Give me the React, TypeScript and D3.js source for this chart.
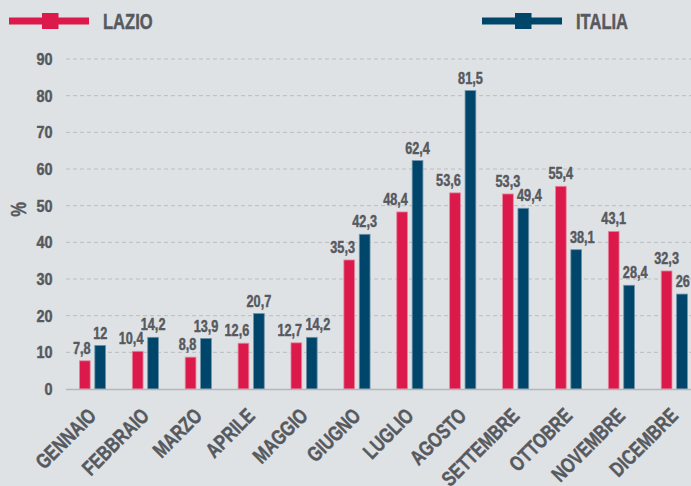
import React from 'react';
import * as d3 from 'd3';

// chart size matches the browser window
const width = 691;
const height = 486;

const months = [
  'GENNAIO', 'FEBBRAIO', 'MARZO', 'APRILE', 'MAGGIO', 'GIUGNO',
  'LUGLIO', 'AGOSTO', 'SETTEMBRE', 'OTTOBRE', 'NOVEMBRE', 'DICEMBRE',
];
const seriesNames = ['LAZIO', 'ITALIA'];
const lazio = [7.8, 10.4, 8.8, 12.6, 12.7, 35.3, 48.4, 53.6, 53.3, 55.4, 43.1, 32.3];
const italia = [12, 14.2, 13.9, 20.7, 14.2, 42.3, 62.4, 81.5, 49.4, 38.1, 28.4, 26];
const yTicks = [0, 10, 20, 30, 40, 50, 60, 70, 80, 90];

const colors: Record<string, string> = { LAZIO: '#db1a4b', ITALIA: '#00456a' };
const strokes: Record<string, string> = { LAZIO: '#e9879f', ITALIA: '#6f93aa' };
const bg = '#dfe2e5';
const textColor = '#56595e';
const font = '"Liberation Sans", Arial, sans-serif';

// italian decimal comma
const fmt = (v: number) => String(v).replace('.', ',');

// condensed heavy text: the original uses a narrow face, so squeeze a regular one
function CText(props: {
  x: number; y: number; size: number; sx?: number; rotate?: number;
  anchor?: 'start' | 'middle' | 'end'; children: React.ReactNode;
}) {
  const { x, y, size, sx = 0.77, rotate = 0, anchor = 'start', children } = props;
  return (
    <text transform={`translate(${x},${y}) rotate(${rotate}) scale(${sx},1)`}
      textAnchor={anchor} fontSize={size} fill={textColor}
      stroke={textColor} strokeWidth={0.45} strokeLinejoin="round">{children}</text>
  );
}

function App() {
  const plotLeft = 66;
  const x = d3.scaleBand<string>()
    .domain(months)
    .range([plotLeft, 700.8])
    .paddingInner(0.49)
    .paddingOuter(0.246);
  const xSub = d3.scaleBand<string>()
    .domain(seriesNames)
    .range([0, x.bandwidth()])
    .paddingInner(0.25);
  const y = d3.scaleLinear().domain([0, 90]).range([389, 59]);
  const bw = xSub.bandwidth();

  return (
    <svg width={width} height={height} style={{ position: 'absolute', left: 0, top: 0 }}
      fontFamily={font} fontWeight="bold">
      <rect width={width} height={height} fill={bg} />

      {/* legend */}
      <g>
        <rect x={9} y={17.5} width={80} height={7} fill={colors.LAZIO} />
        <rect x={42} y={13} width={16.5} height={16} fill={colors.LAZIO} />
        <CText x={103} y={29} size={21.5}>LAZIO</CText>
        <rect x={482} y={17.5} width={80} height={7} fill={colors.ITALIA} />
        <rect x={515} y={13} width={16.5} height={16} fill={colors.ITALIA} />
        <CText x={576} y={29} size={21.5}>ITALIA</CText>
      </g>

      {/* grid + y axis */}
      <g>
        {yTicks.map(t => (
          <g key={t}>
            {t > 0 && (
              <line x1={plotLeft} x2={width} y1={y(t)} y2={y(t)}
                stroke="#b9bdc1" strokeWidth={1} strokeDasharray="4,3" />
            )}
            <CText x={52.5} y={y(t) + 6} size={17} sx={0.85} anchor="end">{t}</CText>
          </g>
        ))}
        <CText x={26} y={209.5} size={21.5} rotate={-90} anchor="middle">%</CText>
      </g>

      {/* bars */}
      {seriesNames.map(name => (
        <g key={name}>
          {(name === 'LAZIO' ? lazio : italia).map((v, i) => {
            const bx = (x(months[i]) ?? 0) + (xSub(name) ?? 0);
            return (
              <rect key={i} x={bx + 0.4} y={y(v) + 0.4} width={bw - 0.8} height={y(0) - y(v) - 0.4}
                fill={colors[name]} stroke={strokes[name]} strokeWidth={0.8} />
            );
          })}
        </g>
      ))}

      {/* value labels: keep the two labels of a month from running into each other */}
      {months.map((m, i) => {
        const gx = x(m) ?? 0;
        const lx = gx + (xSub('LAZIO') ?? 0);
        const ix = gx + (xSub('ITALIA') ?? 0);
        const lazioHigher = lazio[i] > italia[i] + 2;
        const close = Math.abs(y(lazio[i]) - y(italia[i])) < 13;
        const italiaStart = lazioHigher || close;
        return (
          <g key={m}>
            <CText x={lazioHigher ? lx + bw / 2 : lx + bw} y={y(lazio[i]) - 6.5} size={16.5}
              anchor={lazioHigher ? 'middle' : 'end'}>{fmt(lazio[i])}</CText>
            <CText x={italiaStart ? ix - 0.5 : ix + bw / 2} y={y(italia[i]) - 6.5} size={16.5}
              anchor={italiaStart ? 'start' : 'middle'}>{fmt(italia[i])}</CText>
          </g>
        );
      })}

      {/* baseline */}
      <line x1={plotLeft} x2={width} y1={y(0) + 0.5} y2={y(0) + 0.5} stroke="#b3b7bb" strokeWidth={1.5} />

      {/* x labels */}
      {months.map(m => {
        const cx = (x(m) ?? 0) + x.bandwidth() / 2 + 5;
        return (
          <CText key={m} x={cx} y={417} size={21} rotate={-45} anchor="end">{m}</CText>
        );
      })}
    </svg>
  );
}

export default App;
